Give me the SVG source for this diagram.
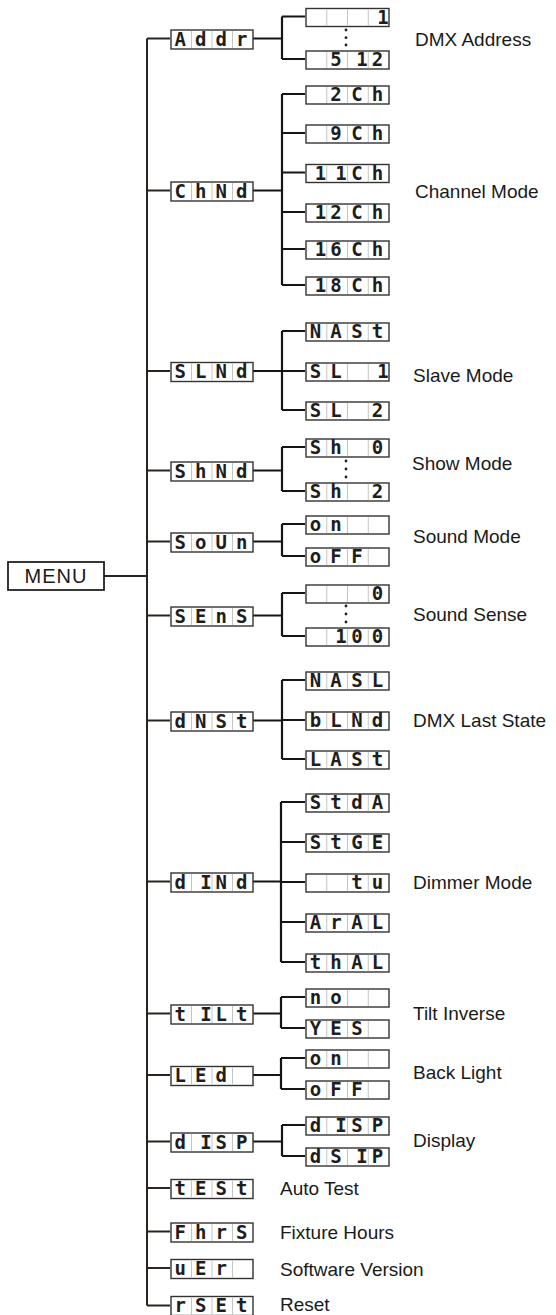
<svg xmlns="http://www.w3.org/2000/svg" xmlns:xlink="http://www.w3.org/1999/xlink" width="556" height="1315" viewBox="0 0 556 1315">
<style>
.bg{fill:#fff}
.lbl{font-family:"Liberation Sans",Arial,sans-serif;font-size:19px;fill:#1a1a1a}
.seg{font-family:"DejaVu Sans Mono","Liberation Mono",monospace;font-size:19px;font-weight:bold;fill:#1e1e1e;text-anchor:middle}
.ln{stroke:#151515;stroke-width:2.2;fill:none}
.tr{stroke:#2a2420;stroke-width:2;fill:none}
.box{fill:#fff;stroke:#333;stroke-width:1.4}
.div{stroke:#c4c4c4;stroke-width:1}
.dot{fill:#222}
</style>
<defs>
<symbol id="mb" width="84" height="21" viewBox="-1 -1 84 21" overflow="visible">
<rect class="box" x="0" y="0" width="82" height="19"/>
<line class="div" x1="20.5" y1="1" x2="20.5" y2="18"/>
<line class="div" x1="41" y1="1" x2="41" y2="18"/>
<line class="div" x1="61.5" y1="1" x2="61.5" y2="18"/>
</symbol>
<symbol id="sb" width="85" height="20" viewBox="-1 -1 85 20" overflow="visible">
<rect class="box" x="0" y="0" width="83" height="18"/>
<line class="div" x1="20.75" y1="1" x2="20.75" y2="17"/>
<line class="div" x1="41.5" y1="1" x2="41.5" y2="17"/>
<line class="div" x1="62.25" y1="1" x2="62.25" y2="17"/>
</symbol>
</defs>
<rect class="bg" width="556" height="1315"/>

<g id="connectors">
<path class="tr" d="M104 576H147M147 38.5V1305.5"/>
<path class="tr" d="M147 38.5H170M147 190.5H170M147 371H170M147 470.5H170M147 541.5H170M147 615.5H170M147 720.5H170M147 881.5H170M147 1013.5H170M147 1075H170M147 1141.5H170M147 1188H170M147 1231.5H170M147 1268H170M147 1305.5H170"/>
<path class="ln" d="M252 38.5H282M282 16.5V59M282 16.5H305M282 59H305"/>
<path class="ln" d="M252 190.5H282M282 94V285M282 94H305M282 133H305M282 172.5H305M282 212H305M282 249H305M282 285H305"/>
<path class="ln" d="M252 371H282M282 331V410M282 331H305M282 371H305M282 410H305"/>
<path class="ln" d="M252 470.5H282M282 447V491M282 447H305M282 491H305"/>
<path class="ln" d="M252 541.5H282M282 524V556M282 524H305M282 556H305"/>
<path class="ln" d="M252 615.5H282M282 593V636M282 593H305M282 636H305"/>
<path class="ln" d="M252 720.5H282M282 680V759M282 680H305M282 720H305M282 759H305"/>
<path class="ln" d="M252 881.5H281M281 802V962M281 802H305M281 842H305M281 882H305M281 922H305M281 962H305"/>
<path class="ln" d="M252 1013.5H281M281 997V1028M281 997H305M281 1028H305"/>
<path class="ln" d="M252 1075H281M281 1058V1089M281 1058H305M281 1089H305"/>
<path class="ln" d="M252 1141.5H282M282 1125V1156M282 1125H305M282 1156H305"/>
</g>

<g id="menu">
<rect x="8" y="562" width="96" height="28" fill="#fff" stroke="#222" stroke-width="1.8"/>
<text class="lbl" x="56" y="583" text-anchor="middle" style="font-size:20px;letter-spacing:1px">MENU</text>
</g>

<g id="addr"><use href="#mb" x="170" y="29"/><text class="seg" x="180.25 200.75 221.25 241.75" y="45.5">Addr</text>
<g id="addr-1"><use href="#sb" x="305" y="7.5"/><text class="seg" x="383" y="23.5">1</text></g>
<g id="addr-512"><use href="#sb" x="305" y="50"/><text class="seg" x="336.1 362 377.6" y="66">512</text></g>
<circle class="dot" cx="346" cy="30" r="1.4"/><circle class="dot" cx="346" cy="37.7" r="1.4"/><circle class="dot" cx="346" cy="45" r="1.4"/>
<text class="lbl" x="415" y="46">DMX Address</text></g>

<g id="chnd"><use href="#mb" x="170" y="181"/><text class="seg" x="180.25 200.75 221.25 241.75" y="197.5">ChNd</text>
<g id="ch-2"><use href="#sb" x="305" y="85"/><text class="seg" x="336.1 356.9 377.6" y="101">2Ch</text></g>
<g id="ch-9"><use href="#sb" x="305" y="124"/><text class="seg" x="336.1 356.9 377.6" y="140">9Ch</text></g>
<g id="ch-11"><use href="#sb" x="305" y="163.5"/><text class="seg" x="320.4 341.1 356.9 377.6" y="179.5">11Ch</text></g>
<g id="ch-12"><use href="#sb" x="305" y="203"/><text class="seg" x="320.4 336.1 356.9 377.6" y="219">12Ch</text></g>
<g id="ch-16"><use href="#sb" x="305" y="240"/><text class="seg" x="320.4 336.1 356.9 377.6" y="256">16Ch</text></g>
<g id="ch-18"><use href="#sb" x="305" y="276"/><text class="seg" x="320.4 336.1 356.9 377.6" y="292">18Ch</text></g>
<text class="lbl" x="415" y="198">Channel Mode</text></g>

<g id="slnd"><use href="#mb" x="170" y="361.5"/><text class="seg" x="180.25 200.75 221.25 241.75" y="378">SLNd</text>
<g id="sl-mast"><use href="#sb" x="305" y="322"/><text class="seg" x="315.4 336.1 356.9 377.6" y="338">NASt</text></g>
<g id="sl-1"><use href="#sb" x="305" y="362"/><text class="seg" x="315.4 336.1 383" y="378">SL1</text></g>
<g id="sl-2"><use href="#sb" x="305" y="401"/><text class="seg" x="315.4 336.1 377.6" y="417">SL2</text></g>
<text class="lbl" x="413" y="382">Slave Mode</text></g>

<g id="shnd"><use href="#mb" x="170" y="461"/><text class="seg" x="180.25 200.75 221.25 241.75" y="477.5">ShNd</text>
<g id="sh-0"><use href="#sb" x="305" y="438"/><text class="seg" x="315.4 336.1 377.6" y="454">Sh0</text></g>
<g id="sh-2"><use href="#sb" x="305" y="482"/><text class="seg" x="315.4 336.1 377.6" y="498">Sh2</text></g>
<circle class="dot" cx="346" cy="461" r="1.4"/><circle class="dot" cx="346" cy="469" r="1.4"/><circle class="dot" cx="346" cy="477" r="1.4"/>
<text class="lbl" x="412" y="470">Show Mode</text></g>

<g id="soun"><use href="#mb" x="170" y="532"/><text class="seg" x="180.25 200.75 221.25 241.75" y="548.5">SoUn</text>
<g id="so-on"><use href="#sb" x="305" y="515"/><text class="seg" x="315.4 336.1" y="531">on</text></g>
<g id="so-off"><use href="#sb" x="305" y="547"/><text class="seg" x="315.4 336.1 356.9" y="563">oFF</text></g>
<text class="lbl" x="413" y="543">Sound Mode</text></g>

<g id="sens"><use href="#mb" x="170" y="606"/><text class="seg" x="180.25 200.75 221.25 241.75" y="622.5">SEnS</text>
<g id="se-0"><use href="#sb" x="305" y="584"/><text class="seg" x="377.6" y="600">0</text></g>
<g id="se-100"><use href="#sb" x="305" y="627"/><text class="seg" x="341.1 356.9 377.6" y="643">100</text></g>
<circle class="dot" cx="346" cy="606" r="1.4"/><circle class="dot" cx="346" cy="614" r="1.4"/><circle class="dot" cx="346" cy="622" r="1.4"/>
<text class="lbl" x="413" y="621">Sound Sense</text></g>

<g id="dnst"><use href="#mb" x="170" y="711"/><text class="seg" x="180.25 200.75 221.25 241.75" y="727.5">dNSt</text>
<g id="dn-masl"><use href="#sb" x="305" y="671"/><text class="seg" x="315.4 336.1 356.9 377.6" y="687">NASL</text></g>
<g id="dn-blnd"><use href="#sb" x="305" y="711"/><text class="seg" x="315.4 336.1 356.9 377.6" y="727">bLNd</text></g>
<g id="dn-last"><use href="#sb" x="305" y="750"/><text class="seg" x="315.4 336.1 356.9 377.6" y="766">LASt</text></g>
<text class="lbl" x="413" y="727">DMX Last State</text></g>

<g id="dind"><use href="#mb" x="170" y="872"/><text class="seg" x="180.25 206 221.25 241.75" y="888.5">dINd</text>
<g id="di-stda"><use href="#sb" x="305" y="793"/><text class="seg" x="315.4 336.1 356.9 377.6" y="809">StdA</text></g>
<g id="di-stge"><use href="#sb" x="305" y="833"/><text class="seg" x="315.4 336.1 356.9 377.6" y="849">StGE</text></g>
<g id="di-tv"><use href="#sb" x="305" y="873"/><text class="seg" x="356.9 377.6" y="889">tu</text></g>
<g id="di-aral"><use href="#sb" x="305" y="913"/><text class="seg" x="315.4 336.1 356.9 377.6" y="929">ArAL</text></g>
<g id="di-thal"><use href="#sb" x="305" y="953"/><text class="seg" x="315.4 336.1 356.9 377.6" y="969">thAL</text></g>
<text class="lbl" x="413" y="889">Dimmer Mode</text></g>

<g id="tilt"><use href="#mb" x="170" y="1004"/><text class="seg" x="180.25 206 221.25 241.75" y="1020.5">tILt</text>
<g id="ti-no"><use href="#sb" x="305" y="988"/><text class="seg" x="315.4 336.1" y="1004">no</text></g>
<g id="ti-yes"><use href="#sb" x="305" y="1019"/><text class="seg" x="315.4 336.1 356.9" y="1035">YES</text></g>
<text class="lbl" x="413" y="1020">Tilt Inverse</text></g>

<g id="led"><use href="#mb" x="170" y="1065.5"/><text class="seg" x="180.25 200.75 221.25" y="1082">LEd</text>
<g id="le-on"><use href="#sb" x="305" y="1049"/><text class="seg" x="315.4 336.1" y="1065">on</text></g>
<g id="le-off"><use href="#sb" x="305" y="1080"/><text class="seg" x="315.4 336.1 356.9" y="1096">oFF</text></g>
<text class="lbl" x="413" y="1079">Back Light</text></g>

<g id="disp"><use href="#mb" x="170" y="1132"/><text class="seg" x="180.25 206 221.25 241.75" y="1148.5">dISP</text>
<g id="dp-1"><use href="#sb" x="305" y="1116"/><text class="seg" x="315.4 341.1 356.9 377.6" y="1132">dISP</text></g>
<g id="dp-2"><use href="#sb" x="305" y="1147"/><text class="seg" x="315.4 336.1 362 377.6" y="1163">dSIP</text></g>
<text class="lbl" x="413" y="1147">Display</text></g>

<g id="test"><use href="#mb" x="170" y="1178.5"/><text class="seg" x="180.25 200.75 221.25 241.75" y="1195">tESt</text>
<text class="lbl" x="280" y="1195">Auto Test</text></g>

<g id="fhrs"><use href="#mb" x="170" y="1222"/><text class="seg" x="180.25 200.75 221.25 241.75" y="1238.5">FhrS</text>
<text class="lbl" x="280" y="1239">Fixture Hours</text></g>

<g id="ver"><use href="#mb" x="170" y="1258.5"/><text class="seg" x="180.25 200.75 221.25" y="1275">uEr</text>
<text class="lbl" x="280" y="1276">Software Version</text></g>

<g id="rset"><use href="#mb" x="170" y="1295.5"/><text class="seg" x="180.25 200.75 221.25 241.75" y="1312">rSEt</text>
<text class="lbl" x="280" y="1311">Reset</text></g>
</svg>
